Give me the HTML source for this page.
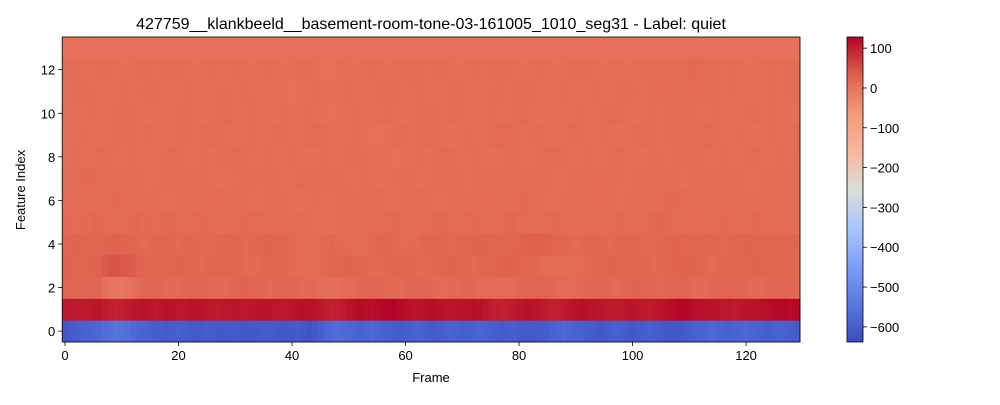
<!DOCTYPE html>
<html><head><meta charset="utf-8"><style>
body{margin:0;background:#fff;}
svg text{font-family:"Liberation Sans",sans-serif;fill:#000;}
</style></head><body>
<svg id="chart" width="1000" height="400">
<text x="431" y="29" font-size="16" text-anchor="middle">427759__klankbeeld__basement-room-tone-03-161005_1010_seg31 - Label: quiet</text>
<g id="cells"></g>
<g id="axes"></g>
<text x="431" y="382" font-size="13" text-anchor="middle">Frame</text>
<text x="25" y="190" font-size="13" text-anchor="middle" transform="rotate(-90 25 190)">Feature Index</text>
<defs><linearGradient id="cbg" x1="0" y1="1" x2="0" y2="0"></linearGradient></defs>
<rect x="847" y="37" width="16" height="305" fill="url(#cbg)" stroke="#000" stroke-width="0.8"/>
<g id="cbticks"></g>
</svg>
<script>
const xTicks=[0,20,40,60,80,100,120];
const yTicks=[0,2,4,6,8,10,12];
const cbTicks=[100,0,-100,-200,-300,-400,-500,-600];
const vmin=-638, vmax=128;
const row0=[-610,-605,-600,-595,-590,-585,-580,-570,-560,-555,-560,-565,-575,-585,-590,-595,-600,-600,-605,-600,-595,-600,-605,-610,-605,-600,-605,-610,-612,-608,-605,-610,-615,-612,-608,-604,-600,-605,-612,-615,-610,-605,-615,-620,-610,-600,-585,-575,-570,-575,-580,-585,-590,-585,-580,-585,-590,-595,-600,-605,-600,-595,-590,-595,-600,-605,-600,-595,-590,-595,-600,-595,-590,-585,-590,-595,-600,-605,-600,-595,-605,-610,-612,-608,-605,-600,-590,-585,-580,-585,-590,-595,-600,-605,-610,-608,-600,-595,-600,-605,-610,-605,-600,-595,-600,-605,-610,-615,-612,-605,-600,-595,-590,-585,-580,-585,-590,-595,-590,-585,-580,-585,-590,-595,-600,-595,-590,-595,-600,-605];
const row1=[110,108,105,104,106,108,110,106,100,98,100,104,108,110,112,110,108,112,115,112,110,108,112,115,112,110,108,106,108,110,112,110,108,110,112,114,112,110,108,110,112,115,118,116,112,108,104,100,102,106,112,118,122,120,118,122,125,126,128,124,120,116,112,114,118,120,116,112,110,112,114,116,118,115,110,104,100,98,102,106,110,114,116,112,108,104,100,102,106,110,114,118,116,112,110,108,106,104,106,110,112,110,108,106,108,112,116,120,124,126,124,120,118,116,114,112,110,108,106,108,112,114,116,118,120,122,124,126,122,125];
const row2=[25,24,22,20,22,24,20,5,0,-5,-5,0,5,15,20,22,24,20,18,16,18,20,22,24,22,20,18,16,18,20,22,24,26,24,22,20,18,20,22,24,22,20,18,16,14,10,8,6,8,12,16,18,20,22,24,22,20,18,16,18,20,22,24,22,20,18,16,14,16,18,20,22,20,18,16,14,12,14,16,18,20,22,24,26,24,22,20,18,16,14,16,18,20,22,24,22,20,18,20,22,24,26,24,22,20,18,20,22,24,22,20,18,16,18,20,22,24,26,24,22,20,18,16,18,20,22,24,22,20,18];
const row3=[28,26,24,22,24,26,30,40,45,45,42,40,36,30,26,24,22,20,22,24,26,24,22,20,18,20,22,24,26,24,22,20,18,16,18,20,22,24,22,20,18,16,14,12,14,16,18,20,22,24,26,24,22,20,18,16,18,20,22,24,22,20,18,16,18,20,22,24,26,24,22,20,18,20,22,24,26,28,30,28,26,24,22,20,18,16,14,12,10,12,14,16,18,20,22,24,26,24,22,20,22,24,22,20,18,20,22,24,26,28,26,24,22,20,18,20,22,24,22,20,22,24,26,24,22,20,22,24,22,20];
const row4=[22,24,26,24,22,20,22,24,26,28,26,24,22,20,18,20,22,24,22,20,18,20,22,20,18,16,18,20,22,24,22,20,18,20,22,24,26,24,22,20,18,16,14,12,14,16,18,20,18,16,14,12,14,16,18,20,22,20,18,16,14,16,18,20,22,24,22,20,18,20,22,24,26,28,26,24,22,20,22,24,26,28,30,32,30,28,26,24,22,20,18,20,22,24,22,20,18,20,22,24,22,20,18,16,18,20,22,24,26,24,22,20,22,24,22,20,18,20,22,24,26,24,22,20,22,24,22,20,22,24];
const row5=[18,16,14,16,18,20,18,16,14,12,14,16,18,20,18,16,14,16,18,16,14,12,14,16,18,16,14,12,10,12,14,16,18,16,14,12,14,16,14,12,10,12,14,12,10,8,6,8,10,12,14,16,14,12,10,12,14,16,18,16,14,12,10,12,14,16,18,16,14,12,14,16,18,16,14,12,14,16,18,20,18,16,14,12,14,16,18,16,14,12,10,12,14,16,14,12,14,16,18,16,14,12,14,16,18,20,18,16,14,12,14,16,14,12,14,16,18,16,14,12,14,16,18,16,14,12,14,16,14,12];
const row6=[12,14,16,14,12,10,12,14,16,18,16,14,12,10,12,14,12,10,8,10,12,14,12,10,12,14,16,14,12,10,12,14,12,10,8,10,12,14,12,10,8,6,8,10,12,10,8,10,12,14,16,14,12,10,12,14,12,10,8,10,12,14,16,14,12,10,8,10,12,14,12,10,12,14,16,14,12,10,12,14,16,18,16,14,12,10,8,10,12,14,12,10,12,14,16,14,12,10,8,10,12,14,12,10,12,14,16,18,16,14,12,10,12,14,12,10,12,14,16,14,12,10,12,14,12,10,12,14,12,10];
const row7=[10,12,14,16,18,16,14,12,10,12,14,16,14,12,10,8,10,12,14,12,10,12,14,16,14,12,10,8,6,8,10,12,14,12,10,12,14,12,10,8,10,12,14,12,10,12,14,16,14,12,10,8,10,12,10,8,6,8,10,12,14,12,10,8,10,12,14,16,14,12,10,8,10,12,14,12,10,12,14,16,14,12,10,12,14,12,10,8,10,12,14,12,10,12,14,16,14,12,10,8,10,12,14,12,10,12,14,12,10,8,10,12,14,16,14,12,10,12,14,12,10,8,10,12,14,12,10,12,14,12];
const row8=[8,10,12,10,8,10,12,14,12,10,8,10,12,10,8,6,8,10,12,14,12,10,8,10,12,10,8,10,12,14,16,14,12,10,8,10,12,10,8,10,12,10,8,6,8,10,12,10,8,10,12,14,12,10,8,10,8,6,4,6,8,10,12,10,8,10,12,14,12,10,8,10,12,10,8,6,8,10,12,14,12,10,8,10,12,14,16,14,12,10,8,10,12,10,8,10,12,14,12,10,8,6,8,10,12,10,8,10,12,14,16,14,12,10,8,10,12,10,8,10,12,14,12,10,8,10,12,10,8,10];
const row9=[6,8,10,12,10,8,6,8,10,12,14,12,10,8,10,12,10,8,6,8,10,12,10,8,10,12,14,12,10,8,6,8,10,12,10,8,10,12,14,12,10,8,10,12,14,12,10,8,6,8,10,12,10,8,6,4,6,8,10,12,10,8,10,12,14,12,10,8,6,8,10,12,10,8,10,12,14,16,14,12,10,8,10,12,10,8,6,8,10,12,14,12,10,8,10,12,10,8,6,8,10,12,14,12,10,8,10,12,14,12,10,12,14,16,14,12,10,8,10,12,10,8,6,8,10,12,10,8,10,12];
const row10=[10,8,6,8,10,12,10,8,10,12,14,12,10,8,6,8,10,8,6,8,10,12,10,8,6,8,10,12,14,12,10,8,10,12,10,8,6,8,10,12,10,8,10,12,10,8,6,4,6,8,10,12,10,8,6,8,10,12,10,8,6,8,10,12,14,12,10,8,10,12,10,8,6,8,10,12,10,8,10,12,14,12,10,8,6,8,10,8,6,8,10,12,10,8,10,12,14,12,10,8,6,8,10,12,10,8,10,12,14,16,14,12,10,8,10,12,10,8,6,8,10,12,10,8,10,12,10,8,6,8];
const row11=[8,10,12,14,12,10,8,6,8,10,12,10,8,10,12,14,12,10,8,6,8,10,12,10,8,6,8,10,12,10,8,10,12,10,8,6,8,10,8,6,4,6,8,10,12,10,8,6,8,10,12,10,8,6,8,10,12,14,12,10,8,10,12,10,8,6,8,10,12,14,12,10,8,6,8,10,12,10,8,10,12,14,12,10,8,6,8,10,12,10,8,6,8,10,12,10,8,10,12,14,12,10,8,10,12,14,16,14,12,10,12,14,16,14,12,10,8,10,12,10,8,6,8,10,12,10,8,10,12,10];
const row12=[12,14,12,10,8,10,12,14,12,10,8,6,8,10,12,10,8,10,12,14,12,10,8,6,8,10,12,10,8,10,12,10,8,6,8,10,12,10,8,6,8,10,12,10,8,6,4,6,8,10,8,6,8,10,12,10,8,6,8,10,12,14,12,10,8,10,12,10,8,6,8,10,12,10,8,10,12,14,12,10,8,6,8,10,12,10,8,6,8,10,12,14,12,10,8,6,8,10,8,6,8,10,12,14,16,14,12,10,12,14,16,18,16,14,12,10,8,10,12,10,8,6,8,10,12,10,8,10,12,10];
const row13=[4,4,5,5,4,4,5,5,4,4,5,5,4,4,5,5,4,4,5,5,4,4,5,5,4,4,5,5,4,4,5,5,4,4,5,5,4,4,5,5,4,4,5,5,4,4,5,5,4,4,5,5,4,4,5,5,4,4,5,5,4,4,5,5,4,4,5,5,4,4,5,5,4,4,5,5,4,4,5,5,4,4,5,5,4,4,5,5,4,4,5,5,4,4,5,5,4,4,5,5,4,4,5,5,4,4,5,5,4,4,5,5,4,4,5,5,4,4,5,5,4,4,5,5,4,4,5,5,4,4];
const rows=[row0,row1,row2,row3,row4,row5,row6,row7,row8,row9,row10,row11,row12,row13];

const NS="http://www.w3.org/2000/svg";
const PL=62.2,PR=800,PT=37,PB=342;
const nF=row0.length,nR=rows.length;
const xScale=v=>PL+(v+0.5)*(PR-PL)/nF;
const yScale=v=>PB-(v+0.5)*(PB-PT)/nR;
const cbScale=v=>PB-(v-vmin)*(PB-PT)/(vmax-vmin);
const stops=[[0,[58,76,192]],[0.125,[90,120,226]],[0.25,[124,159,249]],[0.375,[170,199,253]],[0.5,[221,220,219]],[0.625,[246,183,156]],[0.75,[244,154,123]],[0.875,[223,96,77]],[1,[180,4,38]]];
function cmap(t){t=Math.max(0,Math.min(1,t));for(let i=1;i<stops.length;i++){if(t<=stops[i][0]){const a=stops[i-1],b=stops[i],f=(t-a[0])/(b[0]-a[0]);return 'rgb('+a[1].map((c,k)=>Math.round(c+(b[1][k]-c)*f)).join(',')+')';}}return 'rgb(180,4,38)';}
const cells=document.getElementById('cells');
rows.forEach((r,ri)=>r.forEach((v,fi)=>{
 const el=document.createElementNS(NS,'rect');
 const x0=xScale(fi-0.5),x1=xScale(fi+0.5),y0=yScale(ri+0.5),y1=yScale(ri-0.5);
 el.setAttribute('x',x0);el.setAttribute('y',y0);el.setAttribute('width',x1-x0+0.4);el.setAttribute('height',y1-y0+0.4);
 el.setAttribute('fill',cmap((v-vmin)/(vmax-vmin)));
 
 
 cells.appendChild(el);
}));
const axes=document.getElementById('axes');
const frame=document.createElementNS(NS,'rect');
frame.setAttribute('x',PL);frame.setAttribute('y',PT);frame.setAttribute('width',PR-PL);frame.setAttribute('height',PB-PT);
frame.setAttribute('fill','none');frame.setAttribute('stroke','#000');frame.setAttribute('stroke-width','0.8');


axes.appendChild(frame);
function line(x1,y1,x2,y2,g){const l=document.createElementNS(NS,'line');l.setAttribute('x1',x1);l.setAttribute('y1',y1);l.setAttribute('x2',x2);l.setAttribute('y2',y2);l.setAttribute('stroke','#000');l.setAttribute('stroke-width','0.8');g.appendChild(l);return l;}
function text(x,y,s,anchor,g){const t=document.createElementNS(NS,'text');t.setAttribute('x',x);t.setAttribute('y',y);t.setAttribute('font-size','13');t.setAttribute('text-anchor',anchor);t.textContent=s;g.appendChild(t);return t;}
xTicks.forEach(v=>{const x=xScale(v);line(x,PB,x,PB+4,axes);
 const t=text(x,PB+18,String(v),'middle',axes);
 
 });
yTicks.forEach(v=>{const y=yScale(v);line(PL-4,y,PL,y,axes);
 const t=text(PL-7,y+5,String(v),'end',axes);
 
 });
const grad=document.getElementById('cbg');
for(let i=0;i<=16;i++){const s=document.createElementNS(NS,'stop');s.setAttribute('offset',i/16);s.setAttribute('stop-color',cmap(i/16));grad.appendChild(s);}
const cbt=document.getElementById('cbticks');
cbTicks.forEach(v=>{const y=cbScale(v);line(863,y,867,y,cbt);
 const t=text(870,y+5,v<0?'\u2212'+Math.abs(v):String(v),'start',cbt);
 
 });
</script>
</body></html>
